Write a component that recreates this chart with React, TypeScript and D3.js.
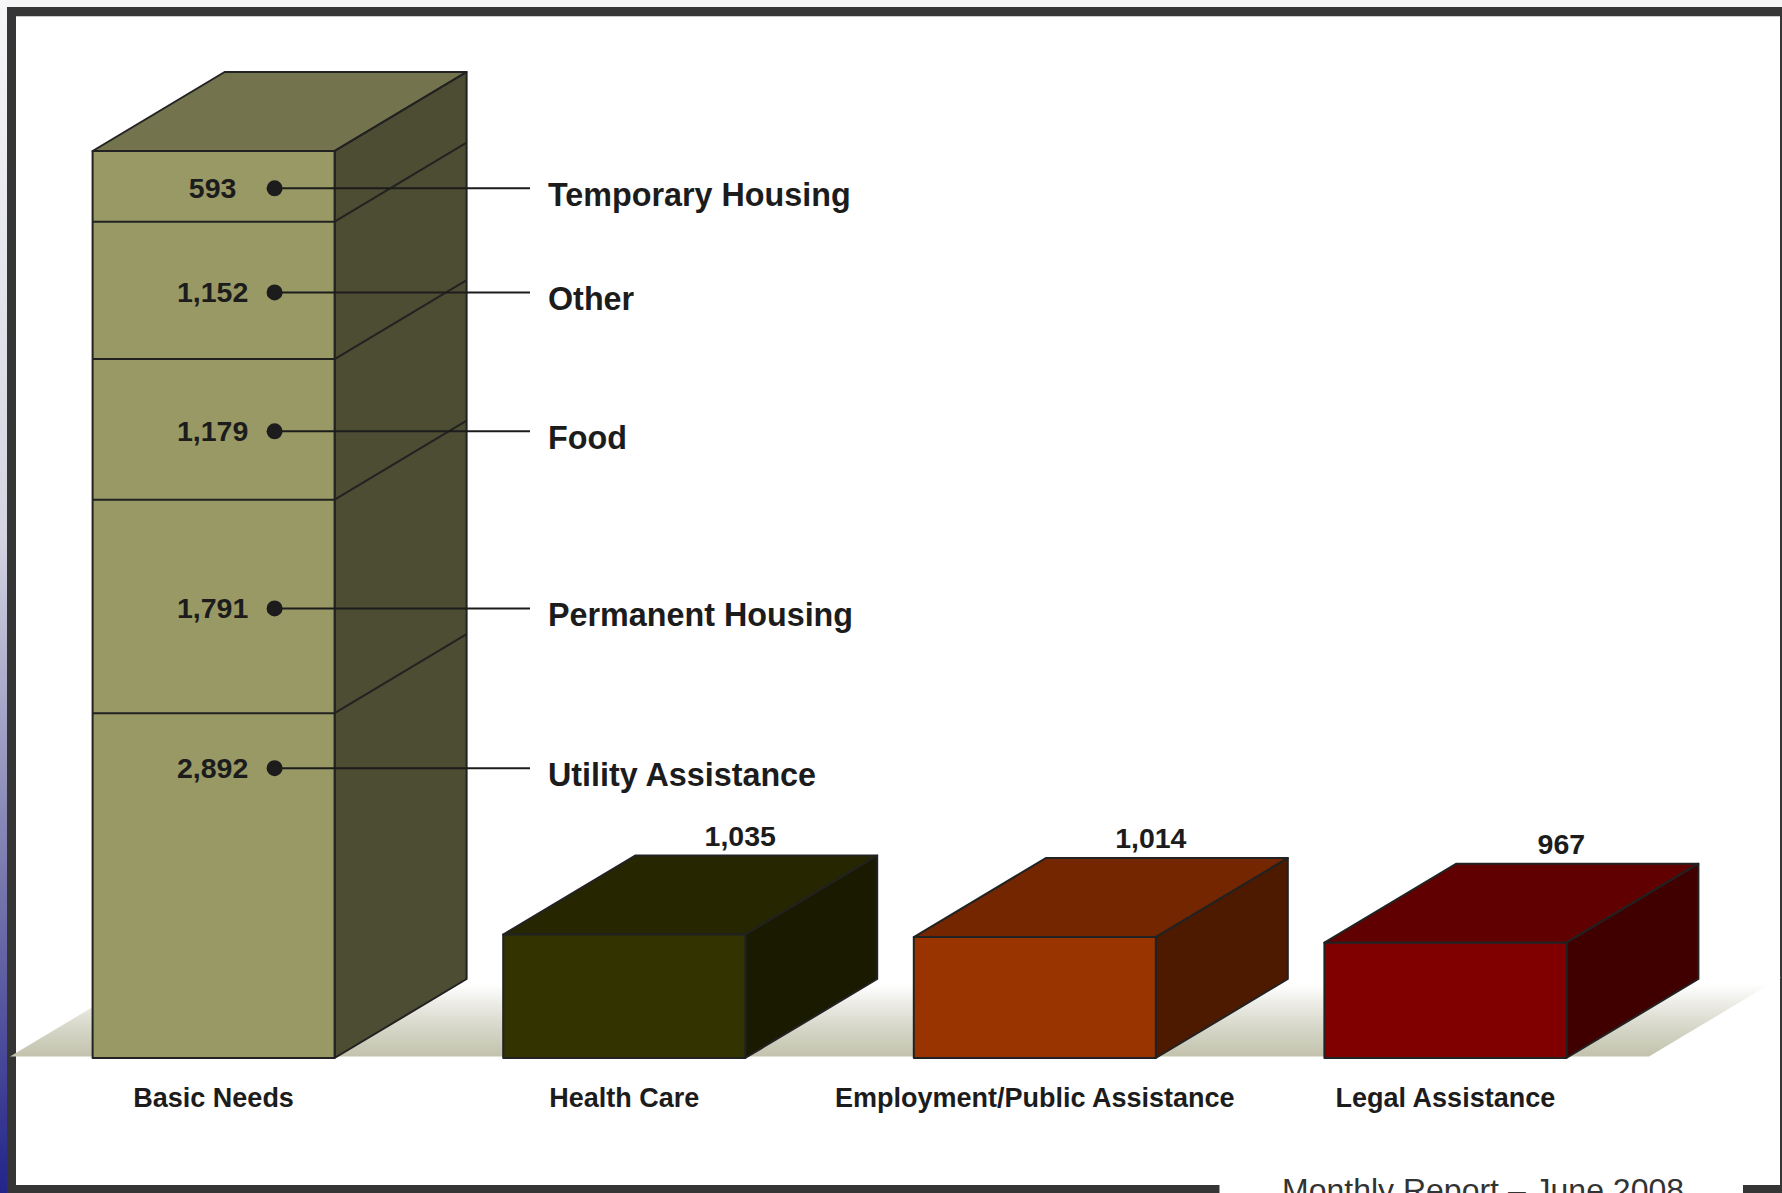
import * as d3 from 'd3'

// Stacked bar: Basic Needs, listed top to bottom as in the chart
const basicNeedsParts = ['Temporary Housing', 'Other', 'Food', 'Permanent Housing', 'Utility Assistance']
const basicNeedsValues = [593, 1152, 1179, 1791, 2892]

// Single bars
const categories = ['Basic Needs', 'Health Care', 'Employment/Public Assistance', 'Legal Assistance']
const singleCategories = ['Health Care', 'Employment/Public Assistance', 'Legal Assistance']
const singleValues = [1035, 1014, 967]
const barColors = ['#999966', '#333300', '#993300', '#800000']

const footerText = 'Monthly Report – June 2008'

const W = 1782
const H = 1193
const DX = 132
const DY = 79
const FONT = '"Liberation Sans", Arial, Helvetica, sans-serif'
const INK = '#1c1c1c'

const shade = (c: string, k: number) => {
    const r = d3.rgb(c)
    return d3.rgb(r.r * k, r.g * k, r.b * k).formatHex()
}

const fmt = d3.format(',')

const App = () => {
    const total = d3.sum(basicNeedsValues)
    const y = d3.scaleLinear().domain([0, total]).range([1058, 151])
    const x = d3
        .scaleBand<string>()
        .domain(categories)
        .range([92.6, 1566.4])
        .paddingInner(0.4106)
        .paddingOuter(0)
    const bw = x.bandwidth()

    // stack bottom-up
    const bottomUp = [...basicNeedsParts].reverse()
    const row: any = {}
    basicNeedsParts.forEach((k, i) => (row[k] = basicNeedsValues[i]))
    const series = d3.stack().keys(bottomUp)([row])

    const floorFront = 1056.5
    const floorLeft = 10
    const floorRight = 1649

    const box = (x0: number, y0: number, yTop: number, color: string, key: string) => {
        const x1 = x0 + bw
        const top = [[x0, yTop], [x0 + DX, yTop - DY], [x1 + DX, yTop - DY], [x1, yTop]]
        const side = [[x1, yTop], [x1 + DX, yTop - DY], [x1 + DX, y0 - DY], [x1, y0]]
        const line = d3.line()
        return (
            <g key={key} stroke='#222' strokeWidth={2} strokeLinejoin='round'>
                <path d={line(top as any) + 'Z'} fill={shade(color, 0.75)} />
                <path d={line(side as any) + 'Z'} fill={shade(color, 0.5)} />
                <rect x={x0} y={yTop} width={bw} height={y0 - yTop} fill={color} />
            </g>
        )
    }

    const bx = x('Basic Needs') as number
    const bx1 = bx + bw
    const dotX = bx + bw / 2 + 61

    return (
        <svg
            width={W}
            height={H}
            style={{ position: 'absolute', left: 0, top: 0, display: 'block' }}
            fontFamily={FONT}
        >
            <defs>
                <linearGradient id='leftStrip' x1='0' y1='0' x2='0' y2='1'>
                    <stop offset='0' stopColor='#f6f6f8' />
                    <stop offset='0.45' stopColor='#d4d4e2' />
                    <stop offset='0.75' stopColor='#7474ac' />
                    <stop offset='1' stopColor='#23238a' />
                </linearGradient>
                <linearGradient id='floorGrad' x1='0' y1='0' x2='0' y2='1'>
                    <stop offset='0' stopColor='#ffffff' />
                    <stop offset='0.08' stopColor='#ffffff' />
                    <stop offset='0.55' stopColor='#dcdcd0' />
                    <stop offset='1' stopColor='#c2c2ad' />
                </linearGradient>
            </defs>

            {/* frame */}
            <rect x={0} y={0} width={W} height={H} fill='#f5f5f6' />
            <rect x={0} y={0} width={7} height={H} fill='url(#leftStrip)' />
            <rect x={7} y={7} width={W} height={H} fill='#353535' />
            <rect x={16} y={16} width={1764} height={1169} fill='#ffffff' />
            <line x1={16} x2={1780} y1={16.5} y2={16.5} stroke='#c9c9c9' strokeWidth={1} />
            <rect x={1219.5} y={1184} width={1743 - 1219.5} height={10} fill='#ffffff' />

            {/* floor */}
            <path
                d={`M${floorLeft},${floorFront}L${floorLeft + DX},${floorFront - DY}L${floorRight + DX},${floorFront - DY}L${floorRight},${floorFront}Z`}
                fill='url(#floorGrad)'
            />

            {/* Basic Needs stacked bar */}
            {box(bx, y(0), y(total), barColors[0], 'basic')}
            <g stroke='#222' strokeWidth={2}>
                {series.map((s) => {
                    const yt = y(s[0][1])
                    return (
                        <g key={s.key}>
                            <line x1={bx} x2={bx1} y1={yt} y2={yt} />
                            <line x1={bx1} x2={bx1 + DX} y1={yt} y2={yt - DY} />
                        </g>
                    )
                })}
            </g>

            {/* segment labels with leaders */}
            {series.map((s, i) => {
                const yt = y(s[0][1])
                const yb = y(s[0][0])
                // the lowest label sits near the top of its segment
                const cy = i === 0 ? yt + 55 : (yt + yb) / 2 + 2
                return (
                    <g key={'lab' + s.key}>
                        <text
                            x={bx + bw / 2 - 1}
                            y={cy + 10}
                            textAnchor='middle'
                            fontSize={28.5}
                            fontWeight='bold'
                            fill={INK}
                        >
                            {fmt(s[0][1] - s[0][0])}
                        </text>
                        <line x1={dotX} x2={530} y1={cy} y2={cy} stroke={INK} strokeWidth={2} />
                        <circle cx={dotX} cy={cy} r={8} fill={INK} />
                        <text x={548} y={cy + 18} fontSize={32.3} fontWeight='bold' fill={INK}>
                            {s.key}
                        </text>
                    </g>
                )
            })}

            {/* single bars */}
            {singleCategories.map((c, i) => {
                const x0 = x(c) as number
                const yt = y(singleValues[i])
                return (
                    <g key={c}>
                        {box(x0, y(0), yt, barColors[categories.indexOf(c)], 'b' + c)}
                        <text
                            x={x0 + bw - 5}
                            y={yt - DY - 10}
                            textAnchor='middle'
                            fontSize={28.5}
                            fontWeight='bold'
                            fill={INK}
                        >
                            {fmt(singleValues[i])}
                        </text>
                    </g>
                )
            })}

            {/* category labels */}
            {categories.map((c) => (
                <text
                    key={'cat' + c}
                    x={(x(c) as number) + bw / 2}
                    y={1107}
                    textAnchor='middle'
                    fontSize={27}
                    fontWeight='bold'
                    fill={INK}
                >
                    {c}
                </text>
            ))}

            <text x={1282} y={1201} fontSize={32} fill='#333333'>
                {footerText}
            </text>
        </svg>
    )
}

export default App
